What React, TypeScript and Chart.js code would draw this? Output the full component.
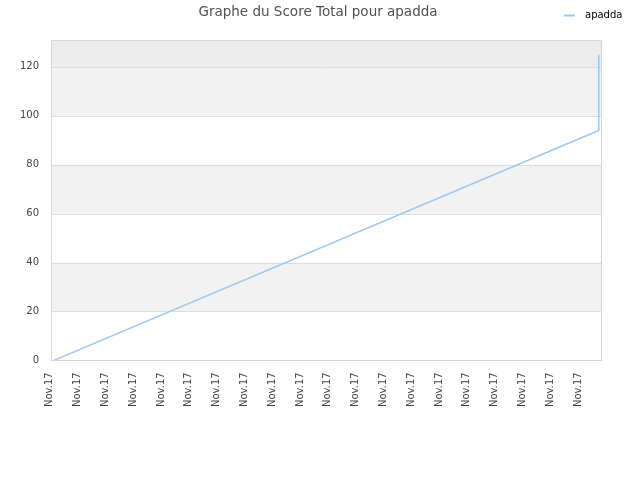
import React, { useEffect, useRef } from "react";
import { Chart, registerables } from "chart.js";

Chart.register(...registerables);

const TITLE = "Graphe du Score Total pour apadda";
const SERIES_NAME = "apadda";
// x positions (point index) and score values
const pointIndex = [0, 98, 98];
const scoreValues = [0, 94, 125];
// x tick positions, all labelled with the same date
const xTickValues = [0, 5, 10, 15, 20, 25, 30, 35, 40, 45, 50, 55, 60, 65, 70, 75, 80, 85, 90, 95];
const xTickLabel = "Nov.17";
const yTicks = [0, 20, 40, 60, 80, 100, 120];
// shaded bands [from, to]
const bandsLight = [[20, 40], [60, 80], [100, 120]];
const bandsDark = [[120, 131]];

const LINE_COLOR = "#9ac7f3";
const FONT = "'DejaVu Sans', sans-serif";

const decorPlugin = {
  id: "decor",
  beforeDatasetsDraw(chart: any) {
    const { ctx, chartArea, scales } = chart;
    const y = scales.y;
    ctx.save();
    const fillBands = (bands: number[][], color: string) => {
      ctx.fillStyle = color;
      for (const [a, b] of bands) {
        const top = y.getPixelForValue(b);
        const bot = y.getPixelForValue(a);
        ctx.fillRect(chartArea.left, top, chartArea.right - chartArea.left, bot - top);
      }
    };
    fillBands(bandsLight, "#f2f2f2");
    fillBands(bandsDark, "#ececec");
    // grid lines
    ctx.strokeStyle = "#dddddd";
    ctx.lineWidth = 1;
    for (const v of yTicks) {
      const py = Math.round(y.getPixelForValue(v)) + 0.5;
      ctx.beginPath();
      ctx.moveTo(chartArea.left, py);
      ctx.lineTo(chartArea.right, py);
      ctx.stroke();
    }
    // border
    ctx.strokeStyle = "#d6d6d6";
    ctx.strokeRect(
      Math.round(chartArea.left) + 0.5,
      Math.round(chartArea.top) + 0.5,
      Math.round(chartArea.right - chartArea.left),
      Math.round(chartArea.bottom - chartArea.top)
    );
    ctx.restore();
  },
  afterDraw(chart: any) {
    const { ctx } = chart;
    ctx.save();
    ctx.fillStyle = "#505050";
    ctx.font = `13.5px ${FONT}`;
    ctx.textAlign = "center";
    ctx.textBaseline = "middle";
    ctx.fillText(TITLE, 318, 12);
    // legend
    ctx.strokeStyle = LINE_COLOR;
    ctx.lineWidth = 2;
    ctx.beginPath();
    ctx.moveTo(564, 15.5);
    ctx.lineTo(575, 15.5);
    ctx.stroke();
    ctx.fillStyle = "#000000";
    ctx.font = `10px ${FONT}`;
    ctx.textAlign = "left";
    ctx.fillText(chart.data.datasets[0].label, 585, 15);
    ctx.restore();
  },
};

export default function App() {
  const ref = useRef<HTMLCanvasElement>(null);
  useEffect(() => {
    document.body.style.margin = "0";
    const chart = new Chart(ref.current!, {
      type: "line",
      data: {
        datasets: [
          {
            label: SERIES_NAME,
            data: pointIndex.map((x, i) => ({ x, y: scoreValues[i] })),
            borderColor: LINE_COLOR,
            backgroundColor: LINE_COLOR,
            borderWidth: 1.5,
            pointRadius: 0,
            tension: 0,
          },
        ],
      },
      options: {
        animation: false,
        responsive: false,
        layout: { padding: { left: 16, right: 39, top: 40, bottom: 69 } },
        plugins: { legend: { display: false }, title: { display: false }, tooltip: { enabled: false } },
        scales: {
          x: {
            type: "linear",
            min: -0.5,
            max: 98.4,
            afterBuildTicks: (scale: any) => {
              scale.ticks = xTickValues.map((v) => ({ value: v }));
            },
            grid: { display: false, drawTicks: true, tickLength: 8, tickColor: "transparent" },
            border: { display: false },
            ticks: {
              autoSkip: false,
              minRotation: 90,
              maxRotation: 90,
              padding: 4,
              labelOffset: -4,
              color: "#444444",
              font: { family: FONT, size: 10 },
              callback: () => xTickLabel,
            },
          },
          y: {
            min: 0,
            max: 131,
            afterBuildTicks: (scale: any) => {
              scale.ticks = yTicks.map((v) => ({ value: v }));
            },
            grid: { display: false, drawTicks: true, tickLength: 8, tickColor: "transparent" },
            border: { display: false },
            ticks: {
              padding: 4,
              color: "#444444",
              font: { family: FONT, size: 10 },
            },
          },
        },
      },
      plugins: [decorPlugin],
    });
    return () => chart.destroy();
  }, []);
  return (
    <div style={{ width: 640, height: 480 }}>
      <canvas ref={ref} width={640} height={480} style={{ display: "block" }} />
    </div>
  );
}
